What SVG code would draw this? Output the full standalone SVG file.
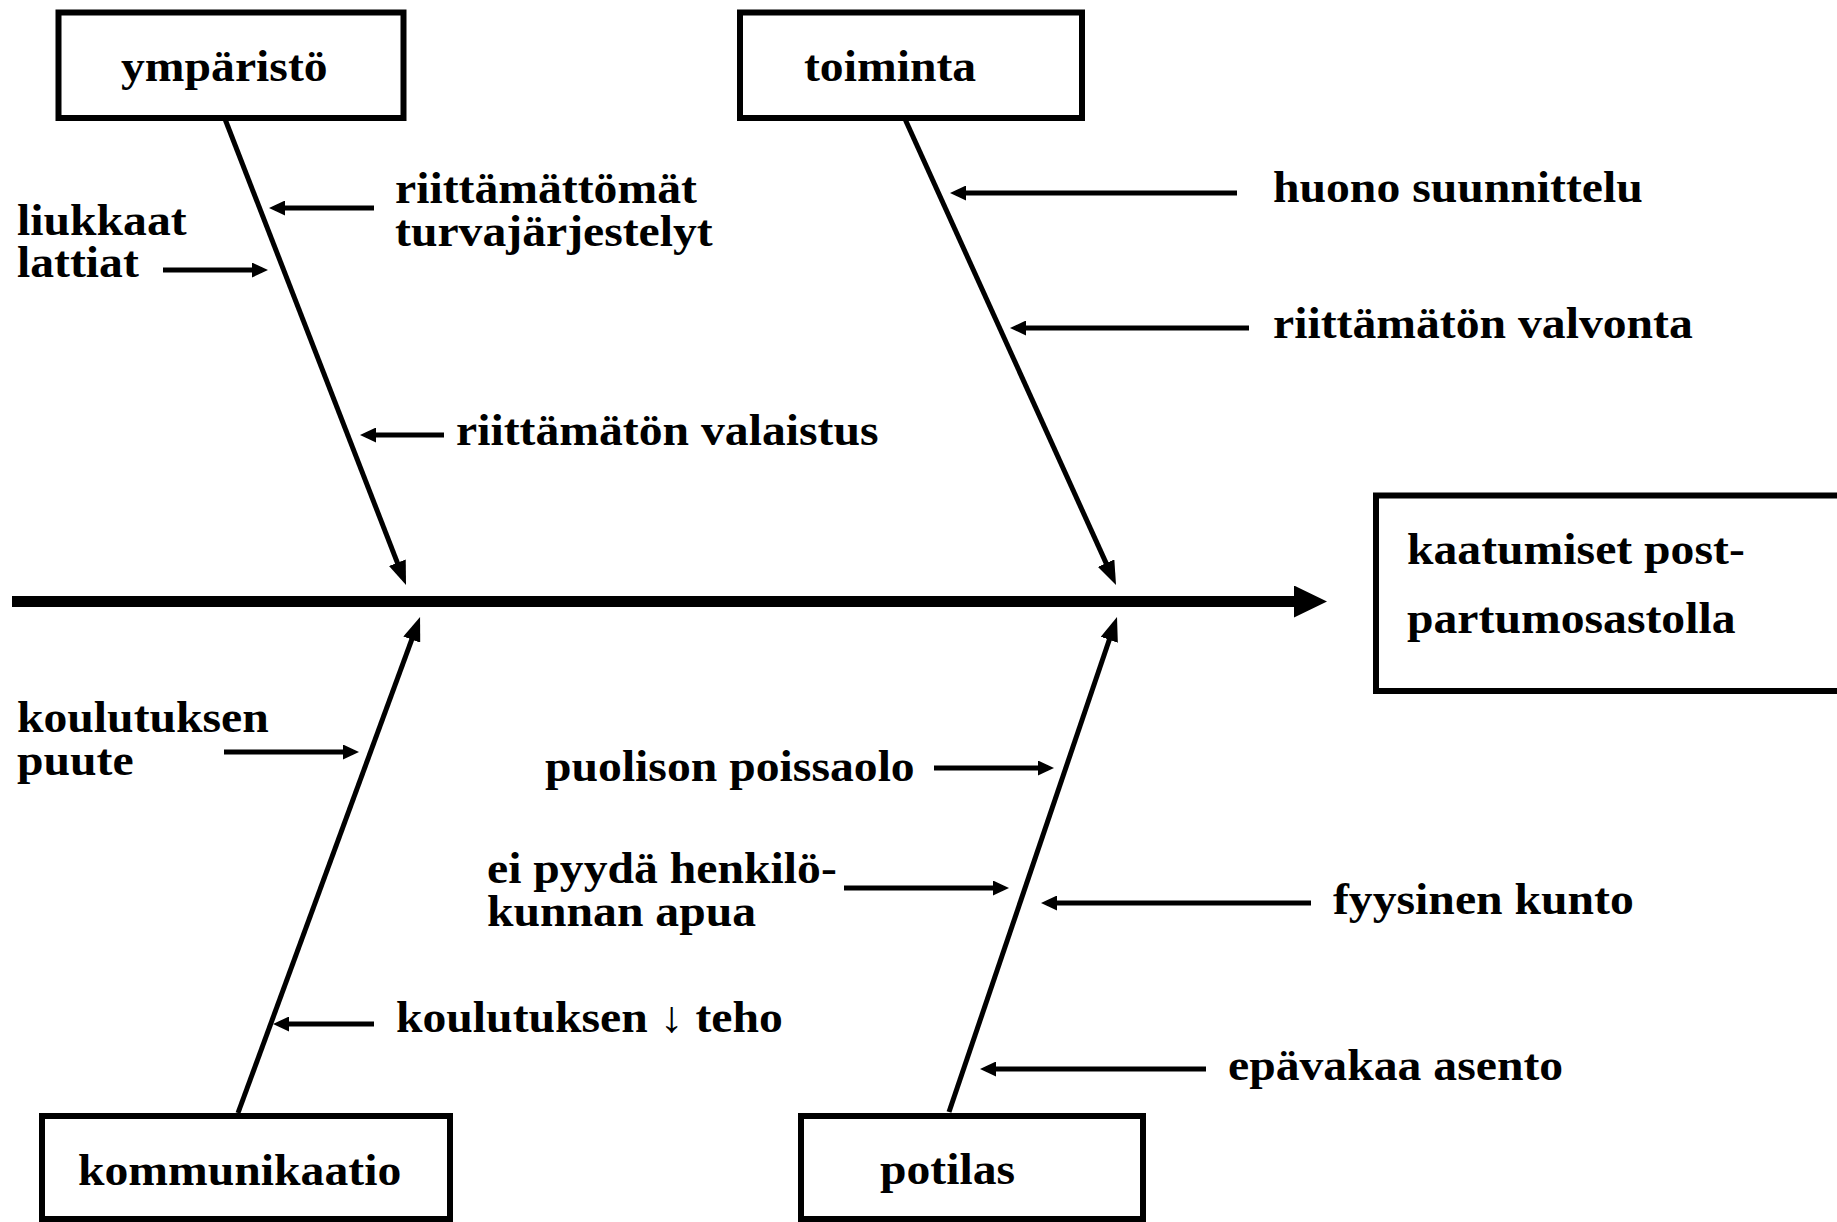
<svg xmlns="http://www.w3.org/2000/svg" width="1837" height="1222" viewBox="0 0 1837 1222">
  <style>
    .box { fill: #fff; stroke: #000; stroke-width: 6; }
    .lbl { font-family: "Liberation Serif", "Times New Roman", serif; font-weight: bold; font-size: 44px; fill: #000;
           transform-box: fill-box; transform-origin: left center; transform: scaleX(1.084); }
    .bone { fill: none; stroke: #000; stroke-width: 5; marker-end: url(#boneHead); }
    .cause { fill: none; stroke: #000; stroke-width: 5; marker-end: url(#smallHead); }
    .spine { fill: none; stroke: #000; stroke-width: 11; marker-end: url(#spineHead); }
  </style>
  <defs>
    <marker id="boneHead" markerUnits="userSpaceOnUse" markerWidth="24" markerHeight="18" refX="14" refY="9" orient="auto">
      <path d="M0,0 L24,9 L0,18 z" fill="#000"/>
    </marker>
    <marker id="smallHead" markerUnits="userSpaceOnUse" markerWidth="16" markerHeight="15" refX="10" refY="7.5" orient="auto">
      <path d="M0,0 L16,7.5 L0,15 z" fill="#000"/>
    </marker>
    <marker id="spineHead" markerUnits="userSpaceOnUse" markerWidth="33" markerHeight="32" refX="3" refY="16" orient="auto">
      <path d="M0,0 L33,16 L0,32 z" fill="#000"/>
    </marker>
  </defs>
  <rect width="1837" height="1222" fill="#fff"/>

  <!-- connectors: spine, category bones and cause arrows -->
  <g id="connectors">
    <line class="spine" x1="12" y1="601.5" x2="1297" y2="601.5"/>

    <line class="bone" x1="225" y1="119" x2="402.4" y2="575.7"/>
    <line class="bone" x1="905" y1="119" x2="1111.9" y2="575.9"/>
    <line class="bone" x1="238" y1="1113" x2="416.6" y2="626.4"/>
    <line class="bone" x1="949" y1="1112" x2="1113.8" y2="626.5"/>

    <line class="cause" x1="374" y1="208" x2="275" y2="208"/>
    <line class="cause" x1="163" y1="270" x2="262" y2="270"/>
    <line class="cause" x1="444" y1="435" x2="366" y2="435"/>
    <line class="cause" x1="1237" y1="193" x2="956" y2="193"/>
    <line class="cause" x1="1249" y1="328" x2="1016" y2="328"/>
    <line class="cause" x1="224" y1="752" x2="353" y2="752"/>
    <line class="cause" x1="374" y1="1024" x2="279" y2="1024"/>
    <line class="cause" x1="934" y1="768" x2="1048" y2="768"/>
    <line class="cause" x1="844" y1="888" x2="1003" y2="888"/>
    <line class="cause" x1="1311" y1="903" x2="1047" y2="903"/>
    <line class="cause" x1="1206" y1="1069" x2="986" y2="1069"/>
  </g>

  <!-- category boxes -->
  <g id="node-ymparisto">
    <rect class="box" x="58.5" y="12.5" width="345" height="105.5"/>
    <text class="lbl" x="121" y="81">ympäristö</text>
  </g>
  <g id="node-toiminta">
    <rect class="box" x="740" y="12.5" width="342" height="105.5"/>
    <text class="lbl" x="804" y="81">toiminta</text>
  </g>
  <g id="node-kommunikaatio">
    <rect class="box" x="42" y="1116" width="408" height="103"/>
    <text class="lbl" x="78" y="1185">kommunikaatio</text>
  </g>
  <g id="node-potilas">
    <rect class="box" x="801" y="1116" width="342" height="103"/>
    <text class="lbl" x="880" y="1184">potilas</text>
  </g>

  <!-- effect box -->
  <g id="node-effect">
    <rect class="box" x="1376" y="495.5" width="470" height="195.5"/>
    <text class="lbl" x="1407" y="564">kaatumiset post-</text>
    <text class="lbl" x="1407" y="633">partumosastolla</text>
  </g>

  <!-- cause labels -->
  <g id="causes">
    <text class="lbl" x="395" y="203">riittämättömät</text>
    <text class="lbl" x="395" y="246">turvajärjestelyt</text>
    <text class="lbl" x="17" y="235">liukkaat</text>
    <text class="lbl" x="17" y="277">lattiat</text>
    <text class="lbl" x="456" y="445">riittämätön valaistus</text>
    <text class="lbl" x="1273" y="202">huono suunnittelu</text>
    <text class="lbl" x="1273" y="338">riittämätön valvonta</text>
    <text class="lbl" x="17" y="732">koulutuksen</text>
    <text class="lbl" x="17" y="775">puute</text>
    <text class="lbl" x="545" y="781">puolison poissaolo</text>
    <text class="lbl" x="487" y="883">ei pyydä henkilö-</text>
    <text class="lbl" x="487" y="926">kunnan apua</text>
    <text class="lbl" x="396" y="1032">koulutuksen ↓ teho</text>
    <text class="lbl" x="1333" y="914">fyysinen kunto</text>
    <text class="lbl" x="1228" y="1080">epävakaa asento</text>
  </g>
</svg>
